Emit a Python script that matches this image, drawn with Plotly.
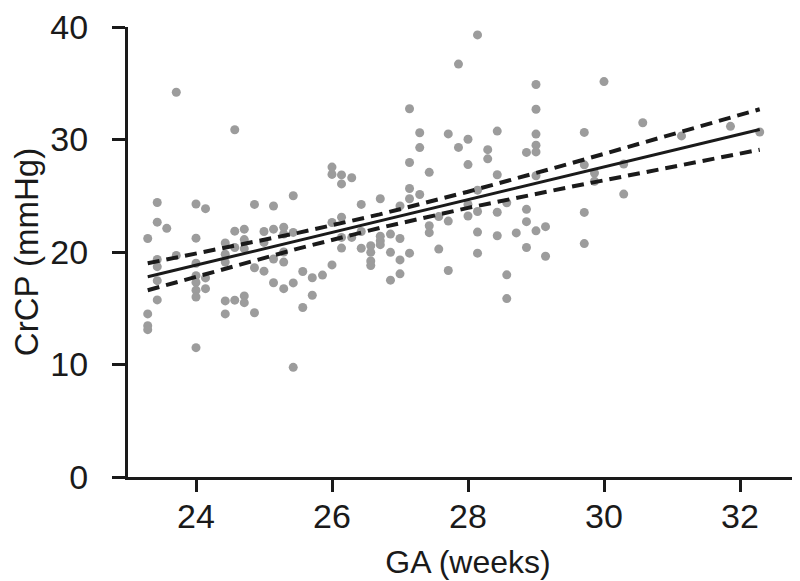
import plotly.graph_objects as go

# Scatter data: gestational age (weeks) and CrCP (mmHg)
ga = [
    23.29, 23.29, 23.29, 23.29,
    23.43, 23.43, 23.43, 23.43, 23.43, 23.43,
    23.57,
    23.71, 23.71,
    24.0, 24.0, 24.0, 24.0, 24.0, 24.0, 24.0, 24.0,
    24.14, 24.14, 24.14,
    24.43, 24.43, 24.43, 24.43, 24.43,
    24.57, 24.57, 24.57, 24.57,
    24.71, 24.71, 24.71, 24.71, 24.71,
    24.86, 24.86, 24.86,
    25.0, 25.0, 25.0,
    25.14, 25.14, 25.14, 25.14,
    25.29, 25.29, 25.29, 25.29, 25.29,
    25.43, 25.43, 25.43, 25.43,
    25.57, 25.57,
    25.71, 25.71,
    25.86,
    26.0, 26.0, 26.0, 26.0,
    26.14, 26.14, 26.14, 26.14, 26.14,
    26.29, 26.29,
    26.43, 26.43, 26.43,
    26.57, 26.57, 26.57, 26.57,
    26.71, 26.71, 26.71, 26.71,
    26.86, 26.86, 26.86,
    27.0, 27.0, 27.0, 27.0,
    27.14, 27.14, 27.14, 27.14, 27.14,
    27.29, 27.29, 27.29,
    27.43, 27.43, 27.43,
    27.57, 27.57,
    27.71, 27.71, 27.71,
    27.86, 27.86,
    28.0, 28.0, 28.0, 28.0,
    28.14, 28.14, 28.14, 28.14, 28.14,
    28.29, 28.29,
    28.43, 28.43, 28.43, 28.43,
    28.57, 28.57, 28.57,
    28.71,
    28.86, 28.86, 28.86, 28.86,
    29.0, 29.0, 29.0, 29.0, 29.0, 29.0, 29.0,
    29.14, 29.14,
    29.71, 29.71, 29.71, 29.71,
    29.86, 29.86,
    30.0,
    30.29, 30.29,
    30.57,
    31.14,
    31.86,
    32.29,
]
crcp = [
    21.2, 14.5, 13.45, 13.1,
    24.4, 22.65, 19.33, 18.7, 17.45, 15.74,
    22.1,
    34.2, 19.7,
    24.27, 21.23, 19.0, 17.9, 17.3, 16.6, 16.0, 11.5,
    23.85, 17.7, 16.74,
    20.8, 19.8, 19.1, 15.65, 14.5,
    30.87, 21.85, 20.4, 15.72,
    22.03, 21.1, 20.3, 16.1, 15.5,
    24.23, 18.6, 14.6,
    21.82, 20.85, 18.3,
    24.09, 22.03, 19.38, 17.27,
    22.2, 21.6, 20.0, 19.1, 16.74,
    25.0, 21.74, 17.25, 9.75,
    18.27, 15.07,
    17.71, 16.16,
    17.95,
    27.55, 26.9, 22.62, 18.85,
    26.85, 26.05, 23.1, 21.3, 20.35,
    26.6, 21.3,
    24.23, 21.82, 20.33,
    20.56, 19.97, 19.2, 18.8,
    24.73, 21.4, 21.0, 20.65,
    21.59, 19.97, 17.5,
    24.1, 21.2, 19.3, 18.06,
    32.73, 27.96, 25.64, 24.73, 19.9,
    30.6, 29.28, 25.11,
    27.08, 22.33, 21.72,
    23.15, 20.26,
    30.5, 22.75, 18.36,
    36.7, 29.3,
    30.02, 27.77, 24.23, 23.2,
    39.3, 25.5, 23.6, 21.77, 19.9,
    29.1, 28.28,
    30.75, 26.87, 23.53, 21.44,
    24.38, 17.97, 15.86,
    21.7,
    28.85, 23.79, 22.7, 20.4,
    34.89, 32.69, 30.48, 29.5, 28.9, 26.78, 21.88,
    22.25, 19.62,
    30.63, 27.75, 23.52, 20.75,
    27.02, 26.29,
    35.15,
    27.82, 25.15,
    31.49,
    30.32,
    31.17,
    30.67,
]

# Regression line and 95% confidence band
fit_x = [23.29, 32.29]
fit_y = [17.8, 30.89]
band_x = [23.29, 24.5, 25.5, 26.7, 28.0, 29.5, 30.9, 32.29]
band_upper = [19.0, 20.44, 21.7, 23.34, 25.36, 27.86, 30.27, 32.69]
band_lower = [16.6, 18.64, 20.3, 22.14, 23.92, 25.78, 27.45, 29.09]

x_ticks = [24, 26, 28, 30, 32]
y_ticks = [0, 10, 20, 30, 40]

FONT = "Liberation Sans, Arial, Helvetica, sans-serif"
INK = "#1a1a1a"

fig = go.Figure()
fig.add_trace(go.Scatter(
    x=ga, y=crcp, mode="markers",
    marker=dict(size=9, color="#9c9c9c", line=dict(width=0)),
    showlegend=False, cliponaxis=False,
))
fig.add_trace(go.Scatter(
    x=band_x, y=band_upper, mode="lines",
    line=dict(color=INK, width=4, dash="12px,7px"), showlegend=False,
))
fig.add_trace(go.Scatter(
    x=band_x, y=band_lower, mode="lines",
    line=dict(color=INK, width=4, dash="12px,7px"), showlegend=False,
))
fig.add_trace(go.Scatter(
    x=fit_x, y=fit_y, mode="lines",
    line=dict(color=INK, width=3), showlegend=False,
))

fig.update_layout(
    width=800, height=581,
    margin=dict(l=120, r=0, t=19, b=112, autoexpand=False),
    paper_bgcolor="white", plot_bgcolor="white",
    font=dict(family=FONT, color=INK, size=34),
)
fig.update_xaxes(
    range=[23, 33], tickvals=x_ticks, ticktext=[str(v) for v in x_ticks],
    showgrid=False, zeroline=False, automargin=False,
    showline=True, linewidth=3, linecolor=INK,
    ticks="outside", ticklen=12, tickwidth=3, tickcolor=INK,
    tickfont=dict(size=34, family=FONT, color=INK),
    ticklabelstandoff=-5,
    title=dict(text="GA (weeks)", font=dict(size=32, family=FONT, color=INK), standoff=17),
)
fig.update_yaxes(
    range=[0, 40], tickvals=y_ticks, ticktext=[str(v) for v in y_ticks],
    showgrid=False, zeroline=False, automargin=False,
    showline=True, linewidth=3, linecolor=INK,
    ticks="outside", ticklen=13, tickwidth=3, tickcolor=INK,
    tickfont=dict(size=34, family=FONT, color=INK),
    ticklabelstandoff=17, ticklabeloverflow="allow",
    title=dict(text="CrCP (mmHg)", font=dict(size=33, family=FONT, color=INK), standoff=22),
)

fig.write_html("out.html")
